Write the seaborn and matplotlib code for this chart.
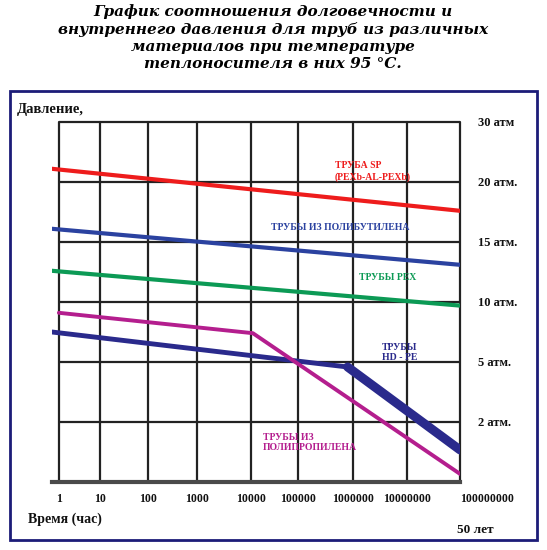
import numpy as np
import pandas as pd
import seaborn as sns
import matplotlib.pyplot as plt
from matplotlib.patches import Rectangle

# --- data (hours / atm) ---
hour_ticks = [1, 10, 100, 1000, 10000, 100000, 1000000, 10000000, 100000000]
hour_labels = ['1', '10', '100', '1000', '10000', '100000', '1000000', '10000000', '100000000']
atm_ticks = [2, 5, 10, 15, 20, 30]
atm_labels = ['2 атм.', '5 атм.', '10 атм.', '15 атм.', '20 атм.', '30 атм']

sp_hours = [0.68, 1e8]
sp_atm = [22.2, 17.6]
pb_hours = [0.68, 1e8]
pb_atm = [16.1, 13.1]
pex_hours = [0.68, 1e8]
pex_atm = [12.6, 9.7]
pp_hours = [1, 11000, 1e8]
pp_atm = [9.1, 7.4, 0.27]
hdpe_hours = [0.68, 8e5]
hdpe_atm = [7.5, 4.75]
hdpe_tail_hours = [8e5, 1e8]
hdpe_tail_atm = [4.75, 1.07]

# uneven hand-drawn grid of the original
decades = [-1, 0, 1, 2, 3, 4, 5, 6, 7, 8]
grid_px = [18, 59, 100, 148, 197, 251, 298, 353, 407, 460]
levels = [0, 2, 5, 10, 15, 20, 30]
rows = [0, 1, 2, 3, 4, 5, 6]


def fwd_x(x):
    return np.interp(np.log10(np.clip(x, 1e-3, None)), decades, grid_px)


def inv_x(p):
    return 10 ** np.interp(p, grid_px, decades)


def fwd_y(y):
    return np.interp(y, levels, rows)


def inv_y(r):
    return np.interp(r, rows, levels)


sns.set_theme(style='white')
plt.rcParams['font.family'] = ['Liberation Serif', 'DejaVu Serif']

W, H = 547, 550
fig = plt.figure(figsize=(W / 100, H / 100), dpi=100)


def px(x, y):
    return x / W, 1 - y / H


# outer frame
fig.patches.append(Rectangle(px(10, 540), 527 / W, 449 / H, transform=fig.transFigure,
                             fill=False, edgecolor='#1c1c78', linewidth=2))

ax = fig.add_axes([52 / W, 1 - 482 / H, (460 - 52) / W, (482 - 122) / H])
ax.set_xscale('function', functions=(fwd_x, inv_x))
ax.set_yscale('function', functions=(fwd_y, inv_y))
ax.set_xlim(0.68, 1e8)
ax.set_ylim(0, 30)

ax.set_xticks(hour_ticks)
ax.set_xticklabels(hour_labels, fontsize=8.5, fontweight='bold', color='#111')
ax.xaxis.set_minor_locator(plt.NullLocator())
ax.set_yticks(atm_ticks)
ax.set_yticklabels(atm_labels, fontsize=9, fontweight='bold', color='#111')
ax.yaxis.set_minor_locator(plt.NullLocator())
ax.yaxis.tick_right()
ax.tick_params(axis='x', length=0, pad=8)
ax.tick_params(axis='y', length=0, pad=13)
for t in ax.get_yticklabels():
    t.set_horizontalalignment('left')
ax.get_xticklabels()[-1].set_horizontalalignment('left')

# grid: vertical lines full height, horizontal ones only from 1 hour on
ax.grid(True, axis='x', color='#222222', linewidth=1.6)
for ln in ax.get_xgridlines():
    ln.set_clip_on(False)
ax.hlines(atm_ticks, hour_ticks[0], hour_ticks[-1], color='#222222', linewidth=1.6,
          clip_on=False, zorder=0.5)
for s in ['left', 'top', 'right']:
    ax.spines[s].set_visible(False)
ax.spines['bottom'].set_color('#4a4a4a')
ax.spines['bottom'].set_linewidth(3)

sns.lineplot(x=sp_hours, y=sp_atm, color='#ee1c1c', linewidth=3, ax=ax)
sns.lineplot(x=pb_hours, y=pb_atm, color='#2b42a0', linewidth=3, ax=ax)
sns.lineplot(x=pex_hours, y=pex_atm, color='#0c9a55', linewidth=3, ax=ax)
sns.lineplot(x=hdpe_hours, y=hdpe_atm, color='#2a2a8c', linewidth=3.5, ax=ax)
sns.lineplot(x=hdpe_tail_hours, y=hdpe_tail_atm, color='#2a2a8c', linewidth=6.5, ax=ax,
             solid_capstyle='round')
sns.lineplot(x=pp_hours, y=pp_atm, color='#b41e8e', linewidth=2.8, ax=ax)
ax.set_xlabel('')
ax.set_ylabel('')

# series labels
lab = dict(fontsize=7, fontweight='bold')
fig.text(*px(335, 166), 'ТРУБА SP', color='#ee1c1c', va='center', **lab)
fig.text(*px(335, 177), '(PEXb-AL-PEXb)', color='#ee1c1c', va='center', **lab)
fig.text(*px(340, 227), 'ТРУБЫ ИЗ ПОЛИБУТИЛЕНА', color='#2b42a0', ha='center', va='center', **lab)
fig.text(*px(388, 277), 'ТРУБЫ PEX', color='#0c9a55', ha='center', va='center', **lab)
fig.text(*px(400, 347), 'ТРУБЫ', color='#2a2a8c', ha='center', va='center', **lab)
fig.text(*px(400, 358), 'HD - PE', color='#2a2a8c', ha='center', va='center', **lab)
fig.text(*px(263, 437), 'ТРУБЫ ИЗ', color='#b41e8e', va='center', **lab)
fig.text(*px(263, 448), 'ПОЛИПРОПИЛЕНА', color='#b41e8e', va='center', **lab)

# axis captions
cap = dict(fontweight='bold', color='#111', va='center')
fig.text(*px(17, 110), 'Давление,', fontsize=10.5, **cap)
fig.text(*px(28, 519), 'Время (час)', fontsize=10, **cap)
fig.text(*px(475, 530), '50 лет', ha='center', fontsize=9.5, **cap)

# title
title_lines = ['График соотношения долговечности и',
               'внутреннего давления для труб из различных',
               'материалов при температуре',
               'теплоносителя в них 95 °С.']
for i, line in enumerate(title_lines):
    fig.text(*px(273, 12 + 17.5 * i), line, ha='center', va='center', fontsize=11,
             fontweight='bold', style='italic', family=['DejaVu Serif'], color='#000')

fig.savefig('out.png', dpi=100)
